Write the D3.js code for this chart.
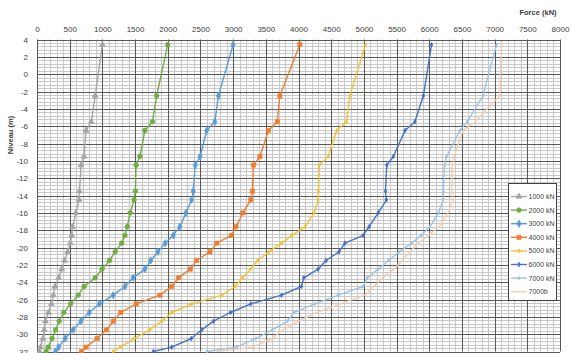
<!DOCTYPE html>
<html>
<head>
<meta charset="utf-8">
<script src="https://cdn.jsdelivr.net/npm/d3@7"></script>
<style>
  html, body { margin: 0; padding: 0; background: #fff; }
  svg { display: block; font-family: "Liberation Sans", Arial, sans-serif; }
</style>
</head>
<body>
<svg id="chart" width="571" height="353"></svg>
<script>
// Depth levels (m) shared by every load case
const depths = [3.4, -2.5, -5.5, -6.5, -9.5, -10.5, -13.5, -14.5, -16, -17.6, -18.6, -19.5, -20.5,
  -21.5, -22.5, -23.5, -24.5, -25.5, -26.5, -27.5, -28.5, -29.5, -30.5, -31.5, -32];

// Axial force (kN) at each depth, one array per load case
const f1000 = [1000, 890, 830, 750, 720, 675, 650, 645, 595, 545, 530, 510, 470,
  420, 380, 330, 275, 250, 220, 175, 130, 110, 90, 55, 40];
const f2000 = [2000, 1830, 1765, 1650, 1575, 1515, 1505, 1485, 1425, 1380, 1345, 1295, 1195,
  1110, 995, 890, 720, 630, 515, 410, 340, 285, 230, 170, 140];
const f3000 = [3000, 2775, 2720, 2595, 2495, 2420, 2390, 2365, 2280, 2185, 2085, 1960, 1850,
  1740, 1650, 1470, 1345, 1165, 955, 800, 670, 555, 430, 330, 280];
const f4000 = [4020, 3715, 3675, 3540, 3410, 3310, 3295, 3270, 3150, 3045, 2975, 2750, 2645,
  2440, 2345, 2165, 2060, 1880, 1520, 1280, 1170, 1060, 920, 750, 680];
const f5000 = [5025, 4785, 4735, 4585, 4455, 4320, 4305, 4300, 4240, 4100, 3900, 3740, 3550,
  3375, 3265, 3145, 3030, 2830, 2370, 2060, 1910, 1720, 1490, 1270, 1165];
const f6000 = [6035, 5910, 5780, 5630, 5450, 5350, 5330, 5345, 5220, 5080, 4990, 4710, 4620,
  4420, 4300, 4080, 4045, 3740, 3270, 2960, 2700, 2520, 2360, 2060, 1780];
const f7000 = [7030, 6820, 6580, 6470, 6265, 6235, 6215, 6215, 6140, 6010, 5880, 5730, 5540,
  5380, 5220, 5050, 4990, 4610, 4250, 3930, 3830, 3600, 3350, 3050, 2600];
const f7000b = [7105, 7080, 6700, 6515, 6380, 6350, 6342, 6365, 6290, 6150, 5990, 5840, 5700,
  5590, 5460, 5290, 5150, 5015, 4640, 4280, 4000, 3760, 3600, 3300, 2750];

const seriesNames = ["1000 kN", "2000 kN", "3000 kN", "4000 kN", "5000 kN", "6000 kN", "7000 kN", "7000b"];
const seriesValues = [f1000, f2000, f3000, f4000, f5000, f6000, f7000, f7000b];

// Tick labels
const forceTicks = d3.range(0, 8001, 500);
const depthTicks = d3.range(4, -32.1, -2);

// Styling per series
const colors = ["#A5A5A5", "#70AD47", "#5B9BD5", "#ED7D31", "#F5C12E", "#4472C4", "#9DC3E6", "#F8CBAD"];
const symbols = [d3.symbolTriangle, d3.symbolCircle, d3.symbolDiamond, d3.symbolSquare,
  d3.symbolDiamond, d3.symbolDiamond, d3.symbolDiamond, null];
const symbolSizes = [16, 18, 16, 18, 5, 7, 4, 0];

const svg = d3.select("#chart");
const mLeft = 37, mRight = 560, mTop = 39.5, mBottom = 351.5;

const x = d3.scaleLinear().domain([0, 8000]).range([mLeft, mRight]);
const y = d3.scaleLinear().domain([4, -32]).range([mTop, mBottom]);

// Grid: minor lines first, then major lines
const grid = svg.append("g");
const minorX = d3.range(0, 8001, 100).filter(v => v % 500 !== 0);
const minorY = d3.range(0, 91).map(k => +(4 - 0.4 * k).toFixed(1)).filter((v, i) => i % 5 !== 0);

grid.selectAll(".mx").data(minorX).join("line")
  .attr("x1", d => Math.round(x(d)) + 0.5).attr("x2", d => Math.round(x(d)) + 0.5)
  .attr("y1", mTop).attr("y2", mBottom)
  .attr("stroke", "#c8c8c8").attr("stroke-width", 1);
grid.selectAll(".my").data(minorY).join("line")
  .attr("y1", d => Math.round(y(d)) + 0.5).attr("y2", d => Math.round(y(d)) + 0.5)
  .attr("x1", mLeft).attr("x2", mRight)
  .attr("stroke", "#c8c8c8").attr("stroke-width", 1);
grid.selectAll(".Mx").data(forceTicks).join("line")
  .attr("x1", d => Math.round(x(d)) + 0.5).attr("x2", d => Math.round(x(d)) + 0.5)
  .attr("y1", mTop).attr("y2", mBottom)
  .attr("stroke", "#595959").attr("stroke-width", 1);
grid.selectAll(".My").data(depthTicks).join("line")
  .attr("y1", d => Math.round(y(d)) + 0.5).attr("y2", d => Math.round(y(d)) + 0.5)
  .attr("x1", mLeft).attr("x2", mRight)
  .attr("stroke", "#595959").attr("stroke-width", 1);

// Axes (labels only)
const xAxis = svg.append("g").attr("transform", `translate(0,${mTop})`)
  .call(d3.axisTop(x).tickValues(forceTicks).tickSize(0).tickPadding(8).tickFormat(d3.format("d")));
const yAxis = svg.append("g").attr("transform", `translate(${mLeft},0)`)
  .call(d3.axisLeft(y).tickValues(depthTicks).tickSize(0).tickPadding(9).tickFormat(d => d));
[xAxis, yAxis].forEach(a => {
  a.select(".domain").remove();
  a.selectAll("text").attr("fill", "#404040").style("font-size", "8px");
});

svg.append("text").attr("x", 538).attr("y", 15).attr("text-anchor", "middle")
  .style("font-size", "7.5px").style("font-weight", "bold").attr("fill", "#404040")
  .text("Force (kN)");
svg.append("text").attr("transform", "translate(13,135) rotate(-90)").attr("text-anchor", "middle")
  .style("font-size", "7.5px").style("font-weight", "bold").attr("fill", "#404040")
  .text("Niveau (m)");

// Series
svg.append("clipPath").attr("id", "plotClip").append("rect")
  .attr("x", mLeft).attr("y", mTop).attr("width", mRight - mLeft).attr("height", mBottom - mTop + 2);
const plot = svg.append("g").attr("clip-path", "url(#plotClip)");
const line = d3.line().x(d => x(d[0])).y(d => y(d[1]));

seriesValues.forEach((vals, i) => {
  const pts = vals.map((v, j) => [v, depths[j]]);
  const g = plot.append("g");
  g.append("path").datum(pts).attr("d", line)
    .attr("fill", "none").attr("stroke", colors[i]).attr("stroke-width", 1.4)
    .attr("stroke-linejoin", "round");
  if (symbols[i]) {
    const sym = d3.symbol().type(symbols[i]).size(symbolSizes[i]);
    g.selectAll("path.m").data(pts).join("path").attr("class", "m")
      .attr("transform", d => `translate(${x(d[0])},${y(d[1])})`)
      .attr("d", sym).attr("fill", colors[i]).attr("stroke", colors[i]).attr("stroke-width", 0.6);
  }
});

// Legend
const legend = svg.append("g");
legend.append("rect").attr("x", 508.5).attr("y", 183.5).attr("width", 48).attr("height", 117)
  .attr("fill", "#fff").attr("stroke", "#404040").attr("stroke-width", 1);
seriesNames.forEach((name, i) => {
  const ly = 196.5 + i * 13.6;
  legend.append("line").attr("x1", 511).attr("x2", 527).attr("y1", ly).attr("y2", ly)
    .attr("stroke", colors[i]).attr("stroke-width", 1.4);
  if (symbols[i]) {
    legend.append("path").attr("transform", `translate(519,${ly})`)
      .attr("d", d3.symbol().type(symbols[i]).size(symbolSizes[i])())
      .attr("fill", colors[i]).attr("stroke", colors[i]).attr("stroke-width", 0.6);
  }
  legend.append("text").attr("x", 528.5).attr("y", ly).attr("dy", "0.35em")
    .style("font-size", "7px").attr("fill", "#404040").text(name);
});
</script>
</body>
</html>
